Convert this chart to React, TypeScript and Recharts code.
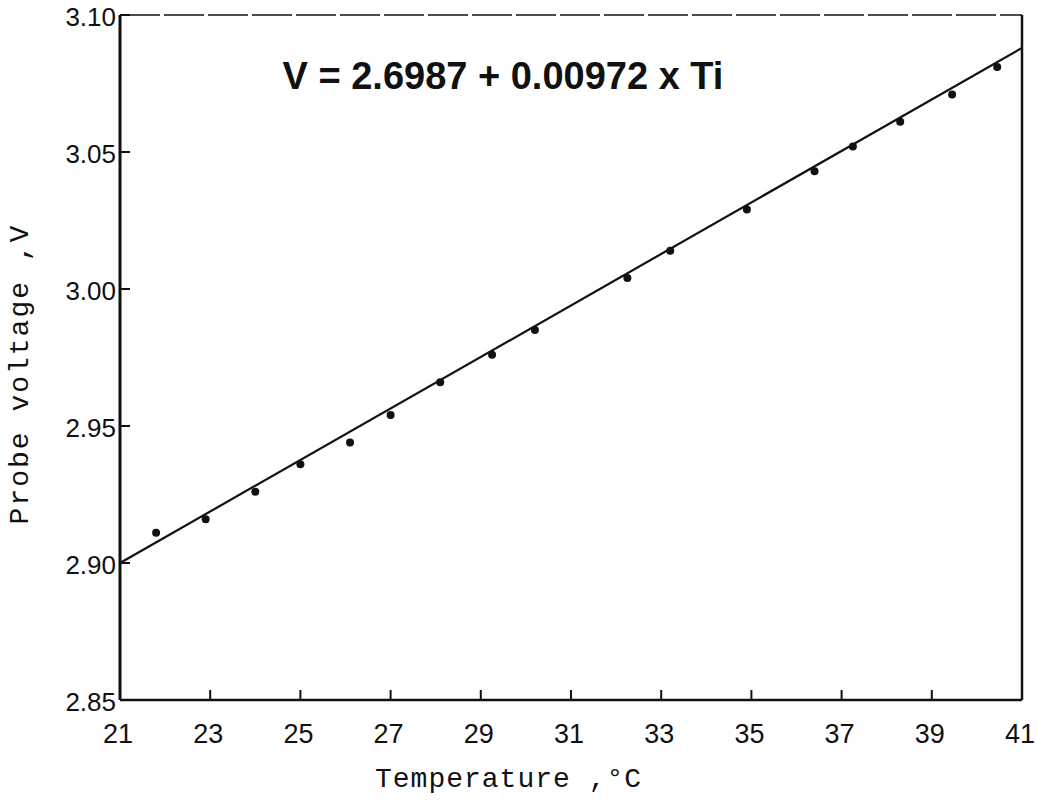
import React from "react";
import {
  ScatterChart,
  Scatter,
  XAxis,
  YAxis,
  ReferenceLine,
} from "recharts";

const tempC = [
  21.8, 22.9, 24.0, 25.0, 26.1, 27.0, 28.1, 29.25, 30.2, 32.25, 33.2, 34.9,
  36.4, 37.25, 38.3, 39.45, 40.45,
];
const voltage = [
  2.911, 2.916, 2.926, 2.936, 2.944, 2.954, 2.966, 2.976, 2.985, 3.004, 3.014,
  3.029, 3.043, 3.052, 3.061, 3.071, 3.081,
];

// fitted line end points
const fitTemp = [21, 41];
const fitVolt = [2.9, 3.088];

const xTicks = [21, 23, 25, 27, 29, 31, 33, 35, 37, 39, 41];
const yTicks = [2.85, 2.9, 2.95, 3.0, 3.05, 3.1];

const equation = "V = 2.6987 + 0.00972 x Ti";
const xTitle = "Temperature ,°C";
const yTitle = "Probe voltage ,V";

const points = tempC.map((t, i) => ({ t, v: voltage[i] }));
const fitLine = fitTemp.map((t, i) => ({ t, v: fitVolt[i] }));

const ink = "#111";

const YTick = (props: any) => {
  const { x, y, payload } = props;
  return (
    <g>
      <line x1={x} x2={x + 10} y1={y} y2={y} stroke={ink} strokeWidth={2} />
      <text
        x={x - 4}
        y={y + 2}
        textAnchor="end"
        dominantBaseline="central"
        fontFamily="'Liberation Sans', Arial, sans-serif"
        fontSize={26}
        fill={ink}
      >
        {Number(payload.value).toFixed(2)}
      </text>
    </g>
  );
};

const XTick = (props: any) => {
  const { x, y, payload } = props;
  return (
    <g>
      <line x1={x} x2={x} y1={y} y2={y - 10} stroke={ink} strokeWidth={2} />
      <text
        x={x - 2}
        y={y + 43}
        textAnchor="middle"
        fontFamily="'Liberation Sans', Arial, sans-serif"
        fontSize={27}
        fill={ink}
      >
        {payload.value}
      </text>
    </g>
  );
};

export default function App() {
  return (
    <div
      style={{
        position: "absolute",
        left: 0,
        top: 0,
        width: 1037,
        height: 804,
        background: "#fff",
      }}
    >
      <ScatterChart
        width={1037}
        height={804}
        margin={{ top: 15, right: 15, bottom: 103, left: 119 }}
      >
        <XAxis
          type="number"
          dataKey="t"
          domain={[21, 41]}
          ticks={xTicks}
          interval={0}
          height={1}
          tickSize={0}
          tickMargin={0}
          tick={<XTick />}
          axisLine={{ stroke: ink, strokeWidth: 2.5 }}
        />
        <YAxis
          type="number"
          dataKey="v"
          domain={[2.85, 3.1]}
          ticks={yTicks}
          interval={0}
          width={1}
          tickSize={0}
          tickMargin={0}
          tick={<YTick />}
          axisLine={{ stroke: ink, strokeWidth: 3 }}
        />
        <ReferenceLine y={3.1} stroke={ink} strokeWidth={1.5} strokeDasharray="40 4" />
        <ReferenceLine x={41} stroke={ink} strokeWidth={2.5} />
        <Scatter
          data={fitLine}
          line={{ stroke: ink, strokeWidth: 2.2 }}
          shape={() => <g />}
          isAnimationActive={false}
        />
        <Scatter
          data={points}
          shape={(p: any) => <circle cx={p.cx} cy={p.cy} r={4} fill={ink} />}
          isAnimationActive={false}
        />
      </ScatterChart>
      <svg
        width={1037}
        height={804}
        style={{ position: "absolute", left: 0, top: 0, pointerEvents: "none" }}
      >
        <text
          x={503}
          y={89}
          textAnchor="middle"
          fontFamily="'Liberation Sans', Arial, sans-serif"
          fontWeight="bold"
          fontSize={38}
          fill={ink}
        >
          {equation}
        </text>
        <text
          x={375}
          y={787}
          fontFamily="'Liberation Mono', 'Courier New', monospace"
          fontSize={28}
          letterSpacing={1}
          fill={ink}
        >
          {xTitle}
        </text>
        <text
          x={28}
          y={374}
          transform="rotate(-90 28 374)"
          textAnchor="middle"
          fontFamily="'Liberation Mono', 'Courier New', monospace"
          fontSize={28}
          letterSpacing={2}
          fill={ink}
        >
          {yTitle}
        </text>
      </svg>
    </div>
  );
}
